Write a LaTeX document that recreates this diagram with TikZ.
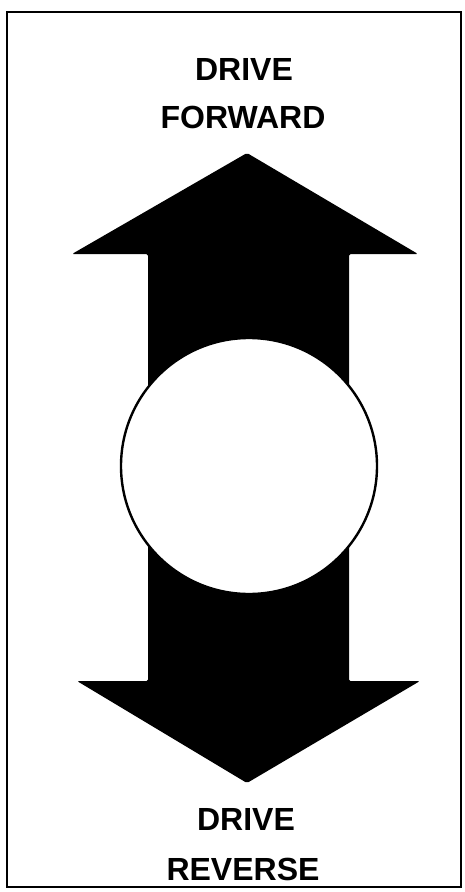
\documentclass[tikz,border=0pt]{standalone}
\usepackage{fontspec}
\setmainfont{Liberation Sans}
\usetikzlibrary{positioning}

\tikzset{
  nhan/.style={font=\fontsize{32}{32}\selectfont\bfseries, inner sep=0pt},
  khung/.style={line width=2pt}
}

\begin{document}
\begin{tikzpicture}[x=1pt, y=-1pt]
    \useasboundingbox (0,0) rectangle (464,892);

    % Khung bao quanh
    \draw[khung] (7,12) rectangle (461,887);

    % Chữ phía trên
    \node[nhan] (drive1) at (244,69) {DRIVE};
    \node[nhan] (forward) at (243,117) {FORWARD};

    % Mũi tên hai chiều (lên và xuống), tô đen
    \fill[rounded corners=1.5pt] (247,153) -- (418,254) -- (349,254) -- (349,681)
        -- (420,681) -- (247,783) -- (77,681) -- (148,681) -- (148,254)
        -- (72,254) -- cycle;

    % Vòng tròn trắng ở giữa
    \node[circle, draw, line width=2.4pt, fill=white, minimum size=256pt,
          inner sep=0pt] (giua) at (249,466) {};

    % Chữ phía dưới
    \node[nhan] (drive2) at (246,819) {DRIVE};
    \node[nhan] (reverse) at (243,869) {REVERSE};
\end{tikzpicture}
\end{document}
